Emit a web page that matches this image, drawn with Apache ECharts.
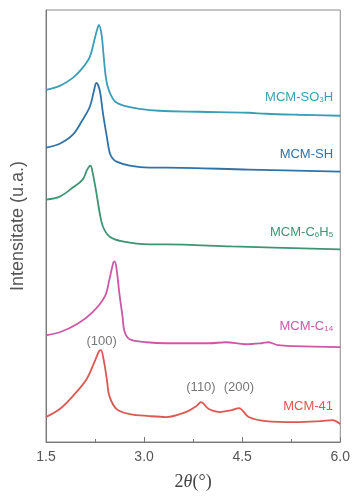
<!DOCTYPE html>
<html>
<head>
<meta charset="utf-8">
<script src="https://cdn.jsdelivr.net/npm/echarts@6/dist/echarts.min.js"></script>
<style>
  html, body { margin: 0; padding: 0; background: #fff; }
  #chart { width: 353px; height: 496px; }
</style>
</head>
<body>
<div id="chart"></div>
<script>
// XRD patterns, low-angle region: [2θ (°), intensity (a.u., stacked offsets)]
const xTickLabels = ['1.5', '3.0', '4.5', '6.0'];

const mcmSO3H = [
  [1.50, 353], [1.71, 357], [1.91, 365], [2.06, 375], [2.17, 386], [2.24, 403],
  [2.28, 413], [2.31, 418], [2.35, 408], [2.38, 388], [2.41, 368], [2.44, 357],
  [2.49, 348], [2.56, 341], [2.70, 337], [2.93, 334], [3.23, 332], [3.84, 331],
  [4.60, 330], [4.86, 329], [5.36, 328], [6.00, 327]
];
const mcmSH = [
  [1.50, 295], [1.71, 299], [1.91, 308], [2.06, 323], [2.17, 336], [2.23, 351],
  [2.27, 360], [2.32, 353], [2.37, 330], [2.43, 306], [2.47, 291], [2.51, 285],
  [2.58, 281], [2.78, 277], [3.08, 275], [3.34, 275], [4.60, 273], [6.00, 271]
];
const mcmC6H5 = [
  [1.50, 243], [1.71, 246], [1.91, 255], [2.06, 263], [2.13, 273], [2.18, 277],
  [2.21, 271], [2.27, 250], [2.32, 230], [2.37, 216], [2.47, 206], [2.67, 201],
  [3.08, 198], [3.34, 198], [4.34, 196], [6.00, 193]
];
const mcmC14 = [
  [1.50, 107], [1.71, 110], [1.97, 118], [2.21, 130], [2.40, 146], [2.47, 163],
  [2.53, 180], [2.55, 181], [2.58, 173], [2.62, 150], [2.67, 126], [2.70, 111],
  [2.78, 103], [3.04, 100], [3.34, 99], [4.00, 99], [4.25, 100], [4.55, 98],
  [4.80, 99], [4.90, 100], [5.05, 97], [5.30, 96], [6.00, 95]
];
const mcm41 = [
  [1.50, 25], [1.71, 33], [1.91, 46], [2.12, 63], [2.24, 80], [2.31, 91],
  [2.34, 92], [2.38, 83], [2.43, 63], [2.47, 46], [2.58, 33], [2.78, 28],
  [3.08, 26], [3.34, 25], [3.64, 30], [3.80, 36], [3.87, 40], [3.99, 33],
  [4.15, 30], [4.34, 32], [4.45, 34], [4.60, 25], [4.86, 21], [5.32, 20],
  [5.70, 21], [5.88, 22], [6.00, 18]
];

// sample names (rich-text markup for subscripts) and where they sit
const sampleNames = [
  '{n|MCM-SO}{s|3}{n|H}',
  '{n|MCM-SH}',
  '{n|MCM-C}{s|6}{n|H}{s|5}',
  '{n|MCM-C}{s|14}',
  '{n|MCM-41}'
];
const nameCoords = [[5.89, 346], [5.89, 289], [5.89, 211], [5.89, 116], [5.89, 36]];

// reflection indices of the hexagonal MCM-41 lattice
const hklLabels = ['(100)', '(110)', '(200)'];
const hklCoords = [[2.35, 101], [3.87, 55], [4.45, 55]];

const colors = ['#3a9fb6', '#2f73a7', '#3e9473', '#cc58a6', '#dc5852'];
const seriesData = [mcmSO3H, mcmSH, mcmC6H5, mcmC14, mcm41];

const chart = echarts.init(document.getElementById('chart'));

const series = seriesData.map((d, i) => ({
  type: 'line',
  data: d,
  smooth: 0.35,
  showSymbol: false,
  silent: true,
  lineStyle: { color: colors[i], width: 1.8 },
  markPoint: {
    symbol: 'circle',
    symbolSize: 0,
    silent: true,
    itemStyle: { color: 'transparent' },
    label: {
      show: true,
      position: 'left',
      distance: 0,
      color: colors[i],
      rich: {
        n: { fontFamily: 'Liberation Sans, Arial, sans-serif', fontSize: 13, color: colors[i], lineHeight: 14, verticalAlign: 'bottom' },
        s: { fontFamily: 'Liberation Sans, Arial, sans-serif', fontSize: 8, color: colors[i], lineHeight: 11, verticalAlign: 'bottom' }
      }
    },
    data: [{ coord: nameCoords[i], label: { formatter: sampleNames[i] } }]
  }
}));

// peak index labels
series.push({
  type: 'scatter',
  data: hklCoords.map((c, i) => ({ value: c, name: hklLabels[i] })),
  symbolSize: 0,
  silent: true,
  itemStyle: { color: 'transparent' },
  label: {
    show: true,
    position: 'inside',
    formatter: p => p.name,
    color: '#555',
    fontSize: 13,
    fontFamily: 'Liberation Sans, Arial, sans-serif'
  }
});

chart.setOption({
  backgroundColor: '#fff',
  animation: false,
  grid: {
    left: 46, right: 11, top: 10, bottom: 53,
    show: true, borderColor: '#8a8a8a', borderWidth: 1
  },
  xAxis: {
    type: 'value',
    min: 1.5, max: 6.0, interval: 1.5,
    name: '{a|2}{b|θ}{a|(°)}',
    nameLocation: 'middle',
    nameGap: 31,
    nameTextStyle: {
      rich: {
        a: { fontFamily: 'Liberation Serif, DejaVu Serif, serif', fontSize: 18, color: '#444' },
        b: { fontFamily: 'Liberation Serif, DejaVu Serif, serif', fontSize: 18, fontStyle: 'italic', color: '#444' }
      }
    },
    axisLine: { lineStyle: { color: '#777', width: 1 } },
    axisTick: { inside: true, length: 5, lineStyle: { color: '#777' } },
    minorTick: { show: true, splitNumber: 2, length: 3, lineStyle: { color: '#777' } },
    splitLine: { show: false },
    axisLabel: {
      color: '#555', fontSize: 14, margin: 8,
      fontFamily: 'Liberation Sans, Arial, sans-serif',
      formatter: v => xTickLabels.find(t => Math.abs(parseFloat(t) - v) < 1e-6) || ''
    }
  },
  yAxis: {
    type: 'value',
    min: 0, max: 433,
    name: 'Intensitate (u.a.)',
    nameLocation: 'middle',
    nameRotate: 90,
    nameGap: 19,
    nameTextStyle: { color: '#555', fontSize: 18, fontFamily: 'Liberation Sans, Arial, sans-serif' },
    axisLine: { show: true, lineStyle: { color: '#777', width: 1 } },
    axisTick: { show: false },
    axisLabel: { show: false },
    splitLine: { show: false }
  },
  series: series
});
</script>
</body>
</html>
